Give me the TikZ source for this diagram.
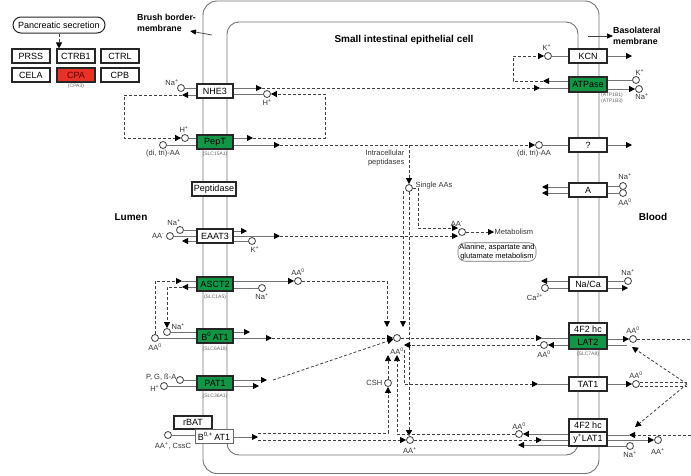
\documentclass[tikz,border=0pt]{standalone}
\usepackage{fontspec}
\setmainfont{Liberation Sans}
\usetikzlibrary{positioning,arrows.meta,calc}
\definecolor{kgreen}{RGB}{18,150,70}
\definecolor{kred}{RGB}{232,50,40}
\tikzset{
  memb/.style={draw=black!55, line width=0.9pt},
  tbox/.style={draw=black!85, line width=1.1pt, fill=white, minimum width=36pt,
               minimum height=14pt, inner sep=0pt, font=\fontsize{9}{10}\selectfont},
  gtbox/.style={tbox, fill=kgreen},
  rtbox/.style={tbox, fill=kred, text=black!60!red},
  thinbox/.style={draw=black!60, line width=0.8pt},
  pbox/.style={draw=black!85, line width=1pt, rounded corners=8pt, minimum width=92pt,
               minimum height=16pt, inner sep=0pt, font=\fontsize{9}{10}\selectfont},
  mapbox/.style={draw=black!55, line width=0.6pt, rounded corners=7pt, fill=white,
                 align=center, inner sep=1.5pt, font=\fontsize{7.5}{8.5}\selectfont},
  cpd/.style={circle, draw=black!75, fill=white, line width=0.8pt, minimum size=7pt,
              inner sep=0pt},
  lbl/.style={font=\fontsize{7.5}{8.5}\selectfont, text=black!80, inner sep=0.5pt},
  gene/.style={font=\fontsize{5}{5.5}\selectfont, text=black!60, inner sep=0pt},
  ttl/.style={font=\bfseries\fontsize{8.8}{11}\selectfont, inner sep=0pt},
  ttlb/.style={font=\bfseries\fontsize{10}{12}\selectfont, inner sep=0pt},
  flow/.style={draw=black!55, line width=0.9pt},
  flowa/.style={flow, -{Triangle[length=6pt,width=6pt,color=black,fill=black]}},
  rxnl/.style={draw=black!75, line width=0.8pt, dash pattern=on 3pt off 2pt},
  rxn/.style={rxnl, -{Triangle[length=6pt,width=6pt,color=black,fill=black]}},
  thinarr/.style={draw=black!75, line width=0.7pt,
                  -{Triangle[length=6pt,width=5pt,color=black,fill=black]}}
}

\begin{document}
\begin{tikzpicture}[x=1pt,y=-1pt]
\useasboundingbox (0,0) rectangle (691,475);
% membranes
\draw[memb, rounded corners=14pt] (203,1) rectangle (599,473.5);
\draw[memb, rounded corners=12pt] (227,22) rectangle (578,455);

% pancreatic enzymes
\node[pbox] (panc) at (59,25) {Pancreatic secretion};
\node[tbox, minimum width=38pt] (prss) at (31,56) {PRSS};
\node[tbox, minimum width=38pt] (ctrb1) at (76,56) {CTRB1};
\node[tbox, minimum width=38pt] (ctrl) at (120,56) {CTRL};
\node[tbox, minimum width=38pt] (cela) at (31,75) {CELA};
\node[rtbox, minimum width=38pt] (cpa) at (76,75) {CPA};
\node[tbox, minimum width=38pt] (cpb) at (120,75) {CPB};
\node[gene] (cpa3) at (76,86) {(CPA3)};
\draw[rxn] (panc) -- (panc |- ctrb1.north);

% titles
\node[ttl, align=left, anchor=west] (bbm) at (137,23) {Brush border-\\membrane};
\coordinate (bbmt) at (212,35);
\coordinate (bbmh) at (190,31);
\draw[thinarr] (bbmt) -- (bbmh);
\node[ttl, align=left, anchor=west] (blm) at (613,36) {Basolateral\\membrane};
\coordinate (blmt) at (588,36);
\draw[thinarr] (blmt) -- (blm.west);
\node[ttlb] (cell) at (404,40) {Small intestinal epithelial cell};
\node[ttlb] (lumen) at (131,217) {Lumen};
\node[ttlb] (blood) at (653,217) {Blood};

% brush border transporters
\node[tbox] (nhe3) at (215,91) {NHE3};
\node[gtbox] (pept) at (215,142) {PepT};
\node[gene] (slc15) at (215,154) {(SLC15A1)};
\node[tbox, minimum width=44pt] (pepd) at (214,189) {Peptidase};
\node[tbox] (eaat3) at (215,236) {EAAT3};
\node[gtbox] (asct2) at (215,284) {ASCT2};
\node[gene] (slc1) at (215,297) {(SLC1A5)};
\node[gtbox] (b0at1) at (215,336) {B\textsuperscript{0}\,AT1};
\node[gene] (slc6) at (215,349) {(SLC6A19)};
\node[gtbox] (pat1) at (215,383) {PAT1};
\node[gene] (slc36) at (215,396) {(SLC36A1)};
\node[tbox, minimum width=38pt, minimum height=13pt] (rbat) at (193,422.5) {rBAT};
\node[tbox, thinbox, minimum width=38pt] (b0pat1) at (214,436) {B\textsuperscript{0,+}\,AT1};

% basolateral transporters
\node[tbox, minimum width=38pt] (kcn) at (588,56) {KCN};
\node[gtbox, minimum width=38pt, minimum height=15pt] (atpase) at (588,84.5) {ATPase};
\node[gene, align=left, anchor=north west] (atpg) at (601,93) {(ATP1B1)\\(ATP1B3)};
\node[tbox, minimum width=38pt] (unk) at (588,145) {?};
\node[tbox, minimum width=38pt] (aa) at (588,190) {A};
\node[tbox, minimum width=38pt] (naca) at (588,284) {Na/Ca};
\node[tbox, minimum width=38pt, minimum height=12pt] (f2hc1) at (588,329) {4F2 hc};
\node[gtbox, minimum width=38pt] (lat2) at (588,342) {LAT2};
\node[gene] (slc7) at (588,354) {(SLC7A8)};
\node[tbox, minimum width=38pt] (tat1) at (588,384) {TAT1};
\node[tbox, minimum width=38pt, minimum height=13pt] (f2hc2) at (588,425.5) {4F2 hc};
\node[tbox, minimum width=38pt] (ylat1) at (588,439) {y\textsuperscript{+}LAT1};

% NHE3 and PepT
\node[cpd] (na1) at (181,88) {};
\node[lbl] (na1l) at (172,83) {Na\textsuperscript{+}};
\draw[flow] (na1) -- (na1 -| nhe3.west);
\coordinate (nhe3l) at (182,95);
\draw[flowa] (nhe3l -| nhe3.west) -- (nhe3l);
\coordinate (hc) at (124,117);
\node[cpd] (h1) at (185,138) {};
\node[lbl] (h1l) at (184,129) {H\textsuperscript{+}};
\draw[rxn] (nhe3l) -| (hc) |- (h1);
\draw[flow] (h1) -- (h1 -| pept.west);
\node[cpd] (ditri1) at (163,145) {};
\node[lbl] (ditri1l) at (163,154) {(di, tri)-AA};
\draw[flow] (ditri1) -- (ditri1 -| pept.west);
\coordinate (nhe3r) at (262,88);
\draw[flowa] (nhe3r -| nhe3.east) -- (nhe3r);
\node[cpd] (h2) at (267,94) {};
\node[lbl] (h2l) at (267,102) {H\textsuperscript{+}};
\draw[flow] (h2) -- (h2 -| nhe3.east);
\coordinate (pepr1) at (253,138);
\draw[flowa] (pepr1 -| pept.east) -- (pepr1);
\coordinate (hc2) at (325,116);
\draw[rxn] (pepr1) -| (hc2) |- (h2);
\coordinate (atpl2) at (540,88);
\draw[rxn] (nhe3r) -- (atpl2);
\draw[flow] (atpl2) -- (atpl2 -| atpase.west);
\coordinate (pepr2) at (280,145);
\draw[flowa] (pepr2 -| pept.east) -- (pepr2);
\node[cpd] (ditri2) at (539,145) {};
\node[lbl] (ditri2l) at (534,154) {(di, tri)-AA};
\draw[rxn] (pepr2) -- (ditri2);
\draw[flow] (ditri2) -- (ditri2 -| unk.west);
\coordinate (unkr) at (632,145);
\draw[flowa] (unkr -| unk.east) -- (unkr);

% KCN and ATPase
\node[cpd] (k2) at (548,56) {};
\node[lbl] (k2l) at (547,47) {K\textsuperscript{+}};
\draw[flow] (k2) -- (k2 -| kcn.west);
\coordinate (kcnr) at (632,56);
\draw[flowa] (kcnr -| kcn.east) -- (kcnr);
\coordinate (atl1) at (543,81);
\draw[flowa] (atl1 -| atpase.west) -- (atl1);
\coordinate (kc) at (513,68);
\draw[rxn] (atl1) -| (kc) |- (k2);
\node[cpd] (k3) at (636,80) {};
\node[lbl] (k3l) at (640,72) {K\textsuperscript{+}};
\draw[flow] (k3) -- (k3 -| atpase.east);
\node[cpd] (na8) at (639,89) {};
\node[lbl] (na8l) at (642,97) {Na\textsuperscript{+}};
\draw[flowa] (na8 -| atpase.east) -- (na8);

% intracellular peptidases
\coordinate (ip) at (409,145);
\node[cpd] (single) at (409,188) {};
\node[lbl, align=right, anchor=east] (ipl) at (405,158) {Intracellular\\peptidases};
\node[lbl, anchor=west] (singlel) at (415,186) {Single AAs};
\draw[rxn] (ip) -- (single);

% EAAT3
\node[cpd] (na2) at (180,230) {};
\node[lbl] (na2l) at (174,223) {Na\textsuperscript{+}};
\node[cpd] (aam2) at (170,236) {};
\node[lbl, anchor=east] (aam2l) at (165,236) {AA\textsuperscript{-}};
\draw[flow] (na2) -- (na2 -| eaat3.west);
\draw[flow] (aam2) -- (aam2 -| eaat3.west);
\coordinate (eal) at (182,241);
\draw[flowa] (eal -| eaat3.west) -- (eal);
\coordinate (ear1) at (247,231);
\draw[flowa] (ear1 -| eaat3.east) -- (ear1);
\coordinate (ear2) at (280,236);
\draw[flowa] (ear2 -| eaat3.east) -- (ear2);
\node[cpd] (k1) at (252,241) {};
\node[lbl] (k1l) at (255,249) {K\textsuperscript{+}};
\draw[flow] (k1) -- (k1 -| eaat3.east);
\node[cpd] (aam) at (462,232) {};
\node[lbl] (aaml) at (457,224) {AA\textsuperscript{-}};
\coordinate (sc1) at (418,228);
\coordinate (aamin1) at (458,228);
\coordinate (aamin2) at (458,236);
\draw[rxn] (single.east) -| (sc1) -- (aamin1);
\draw[rxn] (ear2) -- (aamin2);
\node[lbl, anchor=west] (metl) at (494,232) {Metabolism};
\draw[rxn] (aam) -- (metl.west);
\node[mapbox] (alamap) at (497,252) {Alanine, aspartate and\\glutamate metabolism};

% A and Na/Ca
\coordinate (al1) at (542,187);
\coordinate (al2) at (542,193);
\draw[flowa] (al1 -| aa.west) -- (al1);
\draw[flowa] (al2 -| aa.west) -- (al2);
\node[cpd] (na7) at (623,186) {};
\node[lbl] (na7l) at (625,177) {Na\textsuperscript{+}};
\node[cpd] (aa0r3) at (623,193) {};
\node[lbl] (aa0r3l) at (625,202) {AA\textsuperscript{0}};
\draw[flow] (na7) -- (na7 -| aa.east);
\draw[flow] (aa0r3) -- (aa0r3 -| aa.east);
\coordinate (ncl1) at (541,281);
\draw[flowa] (ncl1 -| naca.west) -- (ncl1);
\node[cpd] (ca) at (545,288) {};
\node[lbl] (cal) at (535,297) {Ca\textsuperscript{2+}};
\draw[flow] (ca) -- (ca -| naca.west);
\node[cpd] (na6) at (628,281) {};
\node[lbl] (na6l) at (628,273) {Na\textsuperscript{+}};
\draw[flow] (na6) -- (na6 -| naca.east);
\coordinate (ncr) at (628,288);
\draw[flowa] (ncr -| naca.east) -- (ncr);

% ASCT2 and B0AT1
\node[cpd] (aa0l) at (155,338) {};
\node[lbl] (aa0ll) at (155,347) {AA\textsuperscript{0}};
\node[cpd] (na3) at (167,332) {};
\node[lbl, anchor=west] (na3l) at (171,327) {Na\textsuperscript{+}};
\coordinate (asl1) at (182,281);
\coordinate (asl2) at (182,287);
\draw[rxn] (aa0l) |- (asl1);
\draw[flow] (asl1) -- (asl1 -| asct2.west);
\draw[flowa] (asl2 -| asct2.west) -- (asl2);
\draw[rxn] (asl2) -| (na3);
\draw[flow] (na3) -- (na3 -| b0at1.west);
\draw[flow] (aa0l) -- (aa0l -| b0at1.west);
\node[cpd] (aa0a) at (298,281) {};
\node[lbl] (aa0al) at (298,272) {AA\textsuperscript{0}};
\draw[flowa] (aa0a -| asct2.east) -- (aa0a);
\node[cpd] (na4) at (262,288) {};
\node[lbl] (na4l) at (262,297) {Na\textsuperscript{+}};
\draw[flow] (na4) -- (na4 -| asct2.east);
\node[cpd] (aa0p) at (397,338) {};
\node[lbl] (aa0pl) at (397,351) {AA\textsuperscript{0}};
\coordinate (aa0in1) at (403,327);
\coordinate (aa0in2) at (387,327);
\coordinate (sv1) at (403,191);
\draw[rxn] (aa0a) -| (aa0in2);
\draw[rxn] (sv1) -- (aa0in1);
\coordinate (b0r1) at (250,332);
\draw[flowa] (b0r1 -| b0at1.east) -- (b0r1);
\coordinate (b0r2) at (272,338);
\draw[flowa] (b0r2 -| b0at1.east) -- (b0r2);
\draw[rxn] (b0r2) -- (aa0p);

% PAT1
\node[cpd] (pga) at (180,380) {};
\node[lbl, anchor=east] (pgal) at (177,377) {P, G, ß-A};
\node[cpd] (h3) at (164,386) {};
\node[lbl, anchor=east] (h3l) at (160,388) {H\textsuperscript{+}};
\draw[flow] (pga) -- (pga -| pat1.west);
\draw[flow] (h3) -- (h3 -| pat1.west);
\coordinate (patr1) at (267,380);
\coordinate (patr2) at (259,386);
\draw[flowa] (patr1 -| pat1.east) -- (patr1);
\draw[flowa] (patr2 -| pat1.east) -- (patr2);
\draw[rxn] ([xshift=6pt]patr1) -- (aa0p);

% rBAT / B0,+AT1
\node[cpd] (aap2) at (168,435) {};
\node[lbl] (aap2l) at (173,446) {AA\textsuperscript{+}, CssC};
\draw[flow] (aap2) -- (aap2 -| b0pat1.west);
\coordinate (b0pr) at (258,437);
\draw[flowa] (b0pr -| b0pat1.east) -- (b0pr);
\node[cpd] (csh) at (388,383) {};
\node[lbl, anchor=east] (cshl) at (383,383) {CSH};
\node[cpd] (aap) at (410,440) {};
\node[lbl] (aapl) at (410,450) {AA\textsuperscript{+}};
\draw[rxn] ([yshift=4pt]b0pr) -| (csh);
\draw[rxn] ([yshift=-3pt]b0pr) -- (aap);
\draw[rxn] (csh) -- (csh |- aa0pl.south);
\draw[rxn] (single) -- (single |- aap.north);

% LAT2, TAT1, y+LAT1
\coordinate (lt1) at (542,338);
\draw[rxn] (aa0p) -- (lt1);
\draw[flow] (lt1) -- (lt1 -| lat2.west);
\node[cpd] (aa0l2) at (544,345) {};
\node[lbl] (aa0l2l) at (544,354) {AA\textsuperscript{0}};
\draw[flowa] (aa0l2 -| lat2.west) -- (aa0l2);
\coordinate (aa0in3) at (404,345);
\draw[rxn] (aa0l2) -- (aa0in3);
\node[cpd] (aa0r1) at (633,339) {};
\node[lbl] (aa0r1l) at (633,330) {AA\textsuperscript{0}};
\draw[flowa] (aa0r1 -| lat2.east) -- (aa0r1);
\coordinate (aa0r1e) at (691,339);
\draw[rxnl] (aa0r1) -- (aa0r1e);
\coordinate (lt2r) at (627,345);
\draw[flow] (lt2r -| lat2.east) -- (lt2r);
\coordinate (tt0) at (404,350);
\coordinate (tt1) at (538,384);
\draw[rxn] (tt0) |- (tt1);
\draw[flow] (tt1) -- (tt1 -| tat1.west);
\node[cpd] (aa0r2) at (636,384) {};
\node[lbl] (aa0r2l) at (636,375) {AA\textsuperscript{0}};
\draw[flowa] (aa0r2 -| tat1.east) -- (aa0r2);
\coordinate (bl) at (687,384);
\draw[rxnl] ([yshift=2pt]aa0r2.east) -- ([yshift=2pt]bl);
\draw[rxnl] ([yshift=-2pt]aa0r2.east) -- ([yshift=-2pt]bl);
\coordinate (lt2tip) at (632,347);
\coordinate (yltip) at (635,427);
\draw[rxn] (bl) -- (lt2tip);
\draw[rxn] (bl) -- (yltip);
\node[cpd] (aa0y) at (519,434) {};
\node[lbl] (aa0yl) at (519,426) {AA\textsuperscript{0}};
\draw[flowa] (aa0y -| ylat1.west) -- (aa0y);
\draw[rxn] (aa0y) -| (aa0pl.south);
\coordinate (yl2) at (542,440);
\draw[rxn] (aap) -- (yl2);
\draw[flow] (yl2) -- (yl2 -| ylat1.west);
\coordinate (yl3) at (518,445);
\draw[flowa] (yl3 -| ylat1.west) -- (yl3);
\coordinate (yr1) at (629,435);
\coordinate (yr1e) at (691,435);
\draw[flow] (yr1 -| ylat1.east) -- (yr1);
\draw[rxn] (yr1e) -- (yr1);
\node[cpd] (na5) at (630,446) {};
\node[lbl] (na5l) at (630,455) {Na\textsuperscript{+}};
\draw[flow] (na5) -- (na5 -| ylat1.east);
\node[cpd] (aap3) at (658,440) {};
\node[lbl] (aap3l) at (658,451) {AA\textsuperscript{+}};
\draw[flowa] (aap3 -| ylat1.east) -- (aap3);
\end{tikzpicture}
\end{document}
